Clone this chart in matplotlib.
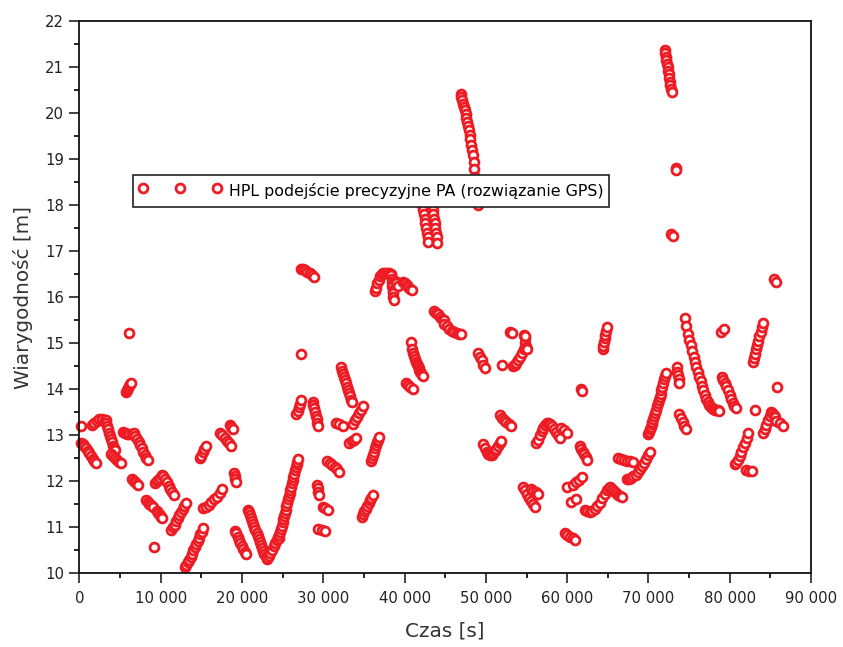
import numpy as np
import matplotlib
matplotlib.use('Agg')
import matplotlib.pyplot as plt
from matplotlib.ticker import MultipleLocator, FuncFormatter

# HPL passes: start time [s], end time [s], HPL values [m] (evenly sampled in time)
seg_t0 = [200, 185, 1500, 3200, 3900, 5300, 6700, 5700, 6130, 6460,
          8180, 9210, 9540, 9300, 10100, 11300, 12980, 14830, 15230, 17300,
          18500, 19050, 19130, 20690, 23100, 24500, 26700, 27210, 27300, 28690,
          29180, 29920, 29380, 30490, 31560, 32130, 33200, 33690, 34720, 35820,
          36300, 37300, 38350, 38800, 39800, 40170, 40780, 42200, 43400, 43600,
          44900, 46900, 49070, 49700, 51730, 51950, 53000, 53300, 54700, 54850,
          54600, 55500, 56200, 57600, 59300, 59700, 59940, 60500, 60750, 61580,
          61700, 62200, 64370, 65300, 66300, 67400, 69950, 72000, 72800, 73350,
          73460, 73790, 74500, 78900, 79010, 80600, 82000, 82900, 83110, 84100,
          85200, 85500, 85700, 85770]
seg_t1 = [200, 2030, 3100, 4400, 5100, 6700, 8400, 6350, 6130, 7240,
          9000, 9210, 10150, 9900, 11600, 13100, 15230, 15520, 17570, 18700,
          18850, 19250, 20480, 23030, 24450, 26900, 27200, 27210, 28800, 29380,
          29500, 30610, 30240, 31970, 32380, 33480, 34020, 34920, 36070, 36890,
          37200, 38300, 38650, 39200, 40900, 41000, 42300, 42920, 44020, 44800,
          47000, 49000, 49890, 51900, 53050, 51950, 53200, 54900, 55050, 54850,
          56000, 56450, 57500, 59100, 59950, 61000, 59940, 61100, 61780, 62480,
          61850, 65200, 64860, 66700, 68050, 70200, 72150, 72850, 73000, 73450,
          73790, 74620, 78700, 79250, 80770, 82300, 82800, 84050, 83110, 85100,
          85600, 85650, 86600, 85770]
seg_hpl = [
    [13.2],
    [12.83, 12.80, 12.76, 12.71, 12.66, 12.60, 12.54, 12.48, 12.43, 12.39],
    [13.22, 13.27, 13.31, 13.34, 13.34, 13.33],
    [13.32, 13.26, 13.19, 13.12, 13.05, 12.98, 12.91, 12.84, 12.77, 12.71, 12.67],
    [12.58, 12.54, 12.5, 12.46, 12.42, 12.39],
    [13.06, 13.04, 13.02, 13.02, 13.03, 13.03],
    [13.04, 12.98, 12.92, 12.85, 12.78, 12.71, 12.64, 12.57, 12.51, 12.46],
    [13.94, 13.98, 14.02, 14.06, 14.1, 14.13],
    [15.21],
    [12.04, 12.0, 11.97, 11.94, 11.91],
    [11.58, 11.54, 11.5, 11.47, 11.43],
    [10.57],
    [11.34, 11.3, 11.26, 11.22, 11.19],
    [11.95, 11.99, 12.03, 12.06],
    [12.12, 12.1, 12.05, 11.98, 11.9, 11.82, 11.75, 11.7],
    [10.93, 10.99, 11.05, 11.12, 11.19, 11.26, 11.33, 11.4, 11.46, 11.52],
    [10.12, 10.17, 10.23, 10.29, 10.35, 10.42, 10.49, 10.56, 10.63, 10.7,
     10.77, 10.84, 10.9, 10.97],
    [12.49, 12.55, 12.62, 12.69, 12.75],
    [11.41, 11.44, 11.48, 11.54, 11.6, 11.66, 11.74, 11.82],
    [13.04, 12.99, 12.94, 12.88, 12.82, 12.75],
    [13.22, 13.18, 13.13],
    [12.17, 12.1, 12.04, 11.98],
    [10.92, 10.86, 10.79, 10.72, 10.65, 10.58, 10.52, 10.46, 10.41],
    [11.38, 11.32, 11.26, 11.2, 11.13, 11.07, 11.0, 10.94, 10.87, 10.81,
     10.74, 10.67, 10.61, 10.54, 10.48, 10.42, 10.36, 10.3],
    [10.33, 10.38, 10.44, 10.51, 10.58, 10.65, 10.72, 10.78],
    [10.75, 10.82, 10.89, 10.96, 11.03, 11.1, 11.17, 11.24, 11.31, 11.38,
     11.45, 11.53, 11.6, 11.67, 11.74, 11.81, 11.88, 11.95, 12.02, 12.09,
     12.16, 12.23, 12.3, 12.36, 12.42, 12.47],
    [13.46, 13.53, 13.6, 13.67, 13.75],
    [14.76],
    [16.61, 16.6, 16.58, 16.55, 16.52, 16.48, 16.44],
    [13.72, 13.65, 13.58, 13.5, 13.42, 13.34, 13.27, 13.2],
    [11.91, 11.84, 11.77, 11.7],
    [11.43, 11.41, 11.38],
    [10.95, 10.94, 10.92],
    [12.44, 12.4, 12.35, 12.3, 12.25, 12.2],
    [13.25, 13.23, 13.2],
    [14.47, 14.4, 14.33, 14.26, 14.19, 14.12, 14.05, 13.98, 13.91, 13.84, 13.77, 13.71],
    [12.82, 12.86, 12.9, 12.94],
    [13.24, 13.32, 13.4, 13.47, 13.55, 13.62],
    [11.22, 11.28, 11.34, 11.4, 11.46, 11.52, 11.58, 11.64, 11.7],
    [12.44, 12.5, 12.57, 12.64, 12.71, 12.78, 12.85, 12.9, 12.95],
    [16.12, 16.2, 16.3, 16.38, 16.45, 16.51],
    [16.52, 16.53, 16.53, 16.52, 16.5],
    [16.48, 16.4, 16.32, 16.24, 16.16, 16.08, 16.0, 15.93],
    [16.35, 16.3, 16.25],
    [16.33, 16.3, 16.26, 16.22, 16.18, 16.15],
    [14.12, 14.08, 14.04, 14.01],
    [15.03, 14.88, 14.79, 14.72, 14.65, 14.59, 14.54, 14.49, 14.45, 14.41,
     14.37, 14.34, 14.31, 14.28],
    [18.0, 17.9, 17.8, 17.7, 17.6, 17.5, 17.4, 17.3, 17.2],
    [18.0, 17.9, 17.8, 17.7, 17.6, 17.5, 17.4, 17.3, 17.17],
    [15.7, 15.66, 15.62, 15.57, 15.53, 15.5],
    [15.42, 15.36, 15.31, 15.27, 15.24, 15.22, 15.2, 15.19],
    [20.41, 20.35, 20.28, 20.2, 20.13, 20.06, 19.98, 19.9, 19.81, 19.72,
     19.63, 19.53, 19.43, 19.31, 19.2, 19.08, 18.93, 18.78, 18.6, 18.4,
     18.2, 18.0],
    [14.78, 14.7, 14.62, 14.53, 14.45],
    [12.8, 12.72, 12.64, 12.58, 12.56, 12.57, 12.6, 12.65, 12.7, 12.76, 12.82, 12.88],
    [13.43, 13.38, 13.33, 13.28, 13.24, 13.2],
    [14.52],
    [15.25, 15.21],
    [14.5, 14.52, 14.56, 14.62, 14.7, 14.78, 14.86, 14.92],
    [15.18, 15.1, 15.0, 14.92, 14.86],
    [15.15],
    [11.88, 11.8, 11.72, 11.64, 11.56, 11.5, 11.44],
    [11.82, 11.78, 11.75, 11.72],
    [12.82, 12.9, 12.99, 13.08, 13.16, 13.22, 13.25],
    [13.26, 13.24, 13.2, 13.14, 13.07, 13.0, 12.93],
    [13.15, 13.1, 13.04],
    [10.87, 10.83, 10.79, 10.75, 10.72],
    [11.88],
    [11.55, 11.6],
    [11.91, 11.97, 12.03, 12.08],
    [12.76, 12.7, 12.64, 12.58, 12.52, 12.46],
    [14.0, 13.95],
    [11.38, 11.34, 11.33, 11.35, 11.39, 11.45, 11.53, 11.62, 11.72, 11.8, 11.85],
    [14.86, 14.94, 15.02, 15.1, 15.18, 15.27, 15.35],
    [11.86, 11.83, 11.78, 11.74, 11.7, 11.67, 11.65],
    [12.49, 12.47, 12.45, 12.44, 12.43, 12.42],
    [12.04, 12.05, 12.07, 12.1, 12.14, 12.19, 12.25, 12.32, 12.4, 12.48, 12.56, 12.63],
    [13.03, 13.07, 13.12, 13.17, 13.23, 13.29, 13.35, 13.41, 13.48, 13.55,
     13.62, 13.69, 13.76, 13.83, 13.9, 13.97, 14.05, 14.13, 14.21, 14.29, 14.35],
    [21.37, 21.3, 21.22, 21.15, 21.07, 21.0, 20.92, 20.84, 20.76, 20.68,
     20.6, 20.53, 20.46],
    [17.38, 17.32],
    [18.8, 18.77],
    [14.47, 14.38, 14.3, 14.22, 14.14],
    [13.46, 13.37, 13.29, 13.2, 13.12],
    [15.54, 15.37, 15.2, 15.07, 14.96, 14.83, 14.69, 14.58, 14.47, 14.37,
     14.26, 14.17, 14.07, 13.98, 13.88, 13.79, 13.72, 13.66, 13.61, 13.58,
     13.56, 13.55, 13.54, 13.54, 13.53],
    [15.25, 15.3],
    [14.25, 14.2, 14.14, 14.06, 13.97, 13.88, 13.79, 13.7, 13.63, 13.58],
    [12.36, 12.4, 12.46, 12.54, 12.63, 12.73, 12.83, 12.93, 13.04],
    [12.24, 12.22, 12.22],
    [14.59, 14.68, 14.77, 14.86, 14.95, 15.05, 15.15, 15.25, 15.34, 15.43],
    [13.54],
    [13.04, 13.12, 13.22, 13.32, 13.42, 13.5],
    [13.48, 13.44, 13.4],
    [16.4, 16.32],
    [13.3, 13.25, 13.2],
    [14.05],
]

legend_label = 'HPL podejście precyzyjne PA (rozwiązanie GPS)'
red = '#ed1c24'

czas = np.concatenate([np.linspace(a, b, len(v)) for a, b, v in zip(seg_t0, seg_t1, seg_hpl)])
hpl = np.concatenate([np.array(v) for v in seg_hpl])

fig = plt.figure(figsize=(8.43, 6.47), dpi=100)
ax = fig.add_axes([0.0943, 0.1144, 0.8677, 0.8531])

ax.plot(czas, hpl, 'o', ls='none', ms=6.4, mew=2.0, mec=red, mfc='white',
        clip_on=False, label=legend_label)

ax.set_xlim(0, 90000)
ax.set_ylim(10, 22)
ax.xaxis.set_major_locator(MultipleLocator(10000))
ax.xaxis.set_minor_locator(MultipleLocator(5000))
ax.yaxis.set_major_locator(MultipleLocator(1))
ax.yaxis.set_minor_locator(MultipleLocator(0.5))
ax.xaxis.set_major_formatter(FuncFormatter(lambda v, p: f"{v:,.0f}".replace(",", " ")))
ax.tick_params(which='major', direction='out', length=7, width=1.2,
               labelsize=10.7, colors='#222222', top=False, right=False)
ax.tick_params(which='minor', direction='out', length=3.5, width=1.2, top=False, right=False)
ax.tick_params(axis='x', pad=6)
ax.tick_params(axis='y', pad=4)
for s in ax.spines.values():
    s.set_linewidth(1.3)
    s.set_color('#111111')

ax.set_xlabel('Czas [s]', fontsize=14.4, color='#333333')
ax.set_ylabel('Wiarygodność [m]', fontsize=14.4, color='#333333')
ax.xaxis.set_label_coords(0.5, -0.088)
ax.yaxis.set_label_coords(-0.064, 0.5)

leg = ax.legend(loc='upper left', bbox_to_anchor=(0.0731, 0.721), borderaxespad=0,
                numpoints=3, handlelength=5.28, handleheight=1.75, handletextpad=0.46,
                borderpad=0.33, fontsize=11.4, fancybox=False, framealpha=1,
                edgecolor='#222222')
leg.get_frame().set_linewidth(1.2)
leg.set_zorder(5)

fig.savefig('out.png', dpi=100)
